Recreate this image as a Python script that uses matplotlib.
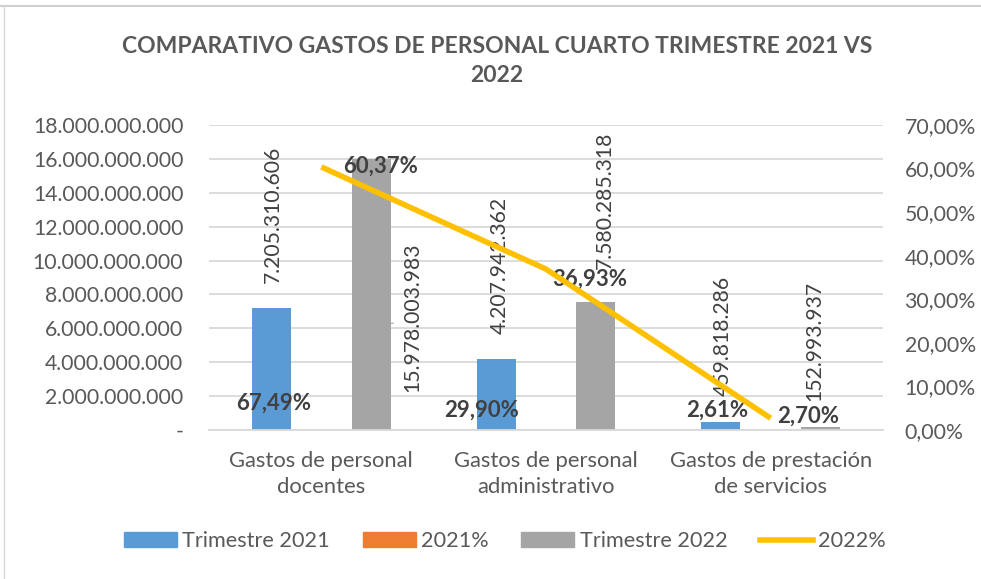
import matplotlib
matplotlib.use('Agg')
import matplotlib.pyplot as plt
from matplotlib.patches import Patch
from matplotlib.lines import Line2D
from matplotlib.ticker import FuncFormatter, MultipleLocator
import numpy as np

categorias = ['Gastos de personal\ndocentes', 'Gastos de personal\nadministrativo',
              'Gastos de prestación\nde servicios']
trimestre_2021 = [7205310606, 4207942362, 459818286]
trimestre_2022 = [15978003983, 7580285318, 152993937]
pct_2021 = [0.6749, 0.2990, 0.0261]
pct_2022 = [0.6037, 0.3693, 0.0270]

AZUL = '#5B9BD5'
NARANJA = '#ED7D31'
GRIS = '#A5A5A5'
AMARILLO = '#FFC000'
TEXTO = '#595959'
ETIQ = '#404040'

plt.rcParams['font.family'] = ['Lato', 'DejaVu Sans']

def miles(v):
    return f'{int(round(v)):,}'.replace(',', '.')

def fmt_izq(v, pos):
    if abs(v) < 1:
        return '-'
    return miles(v)

def fmt_der(v, pos):
    return f'{v * 100:.2f}%'.replace('.', ',')

fig = plt.figure(figsize=(9.81, 5.79), dpi=100)
ax = fig.add_axes([209 / 981, 1 - 430 / 579, 674 / 981, 305 / 579])
ax2 = ax.twinx()

x = np.arange(len(categorias))
ancho = 0.174
desp = 0.222

ax.bar(x - desp, trimestre_2021, ancho, color=AZUL, zorder=2)
ax.bar(x, pct_2021, ancho, color=NARANJA, zorder=2)
ax.bar(x + desp, trimestre_2022, ancho, color=GRIS, zorder=2)
ax2.plot(x, pct_2022, color=AMARILLO, linewidth=4, solid_capstyle='butt', zorder=3)

ax.set_xlim(-0.5, 2.5)
ax.set_ylim(0, 18e9)
ax.yaxis.set_major_locator(MultipleLocator(2e9))
ax.yaxis.set_major_formatter(FuncFormatter(fmt_izq))
ax2.set_ylim(0, 0.70)
ax2.yaxis.set_major_locator(MultipleLocator(0.10))
ax2.yaxis.set_major_formatter(FuncFormatter(fmt_der))

ax.grid(axis='y', color='#D9D9D9', linewidth=1.3, zorder=0)
ax.set_axisbelow(True)
for a in (ax, ax2):
    for s in a.spines.values():
        s.set_visible(False)
ax.spines['bottom'].set_visible(True)
ax.spines['bottom'].set_color('#D9D9D9')
ax.spines['bottom'].set_linewidth(1.3)

ax.set_xticks(x)
ax.set_xticklabels(categorias, fontsize=15.8, color=TEXTO, linespacing=1.4)
ax.tick_params(axis='x', length=0, pad=15)
ax.tick_params(axis='y', length=0, pad=18.5, labelsize=15.3, labelcolor=TEXTO)
ax2.tick_params(axis='y', length=0, pad=15.5, labelsize=15.3, labelcolor=TEXTO)

# posiciones de las etiquetas (desplazamiento en categoria, altura en eje primario)
pos_val21 = [(-0.214, 12.75e9), (-0.205, 9.74e9), (-0.214, 5.55e9)]
pos_val22 = [(0.405, 6.67e9), (0.263, 13.57e9), (0.196, 5.25e9)]
pos_pct21 = [(-0.214, 1.59e9), (-0.285, 1.18e9), (-0.236, 1.18e9)]
pos_pct22 = [(0.263, 15.58e9), (0.196, 8.91e9), (0.165, 0.83e9)]

for i in range(len(categorias)):
    ax.text(x[i] + pos_val21[i][0], pos_val21[i][1], miles(trimestre_2021[i]),
            rotation=90, ha='center', va='center', fontsize=15.2, color=ETIQ, zorder=4)
    ax.text(x[i] + pos_val22[i][0], pos_val22[i][1], miles(trimestre_2022[i]),
            rotation=90, ha='center', va='center', fontsize=15.2, color=ETIQ, zorder=4)
    ax.text(x[i] + pos_pct21[i][0], pos_pct21[i][1], fmt_der(pct_2021[i], 0),
            ha='center', va='center', fontsize=16, fontweight='bold', color=ETIQ, zorder=5)
    ax.text(x[i] + pos_pct22[i][0], pos_pct22[i][1], fmt_der(pct_2022[i], 0),
            ha='center', va='center', fontsize=16, fontweight='bold', color=ETIQ, zorder=5)

# linea guia de la etiqueta desplazada
ax.plot([x[0] + 0.23, x[0] + 0.276, x[0] + 0.32], [14.9e9, 6.3e9, 6.3e9],
        color='#A6A6A6', linewidth=0.8, zorder=3)

fig.text(497 / 981, 1 - 61 / 579, 'COMPARATIVO GASTOS DE PERSONAL CUARTO TRIMESTRE 2021 VS\n2022',
         ha='center', va='center', fontsize=16.5, fontweight='bold', color=TEXTO, linespacing=1.5)

handles = [Patch(color=AZUL), Patch(color=NARANJA), Patch(color=GRIS),
           Line2D([0], [0], color=AMARILLO, linewidth=4)]
etiquetas = ['Trimestre 2021', '2021%', 'Trimestre 2022', '2022%']
fig.legend(handles, etiquetas, loc='center', bbox_to_anchor=(505 / 981, 1 - 541 / 579),
           ncol=4, frameon=False, fontsize=15.6, labelcolor=TEXTO, handlelength=2.45,
           handleheight=0.65, handletextpad=0.25, columnspacing=1.5)

# marco recortado
fig.add_artist(Line2D([0, 1], [1 - 6 / 579] * 2, transform=fig.transFigure, color='#D0D0D0', linewidth=1.5))
fig.add_artist(Line2D([4 / 981] * 2, [0, 1 - 6 / 579], transform=fig.transFigure, color='#D9D9D9', linewidth=1.0))

fig.savefig('out.png', dpi=100)
plt.close(fig)
